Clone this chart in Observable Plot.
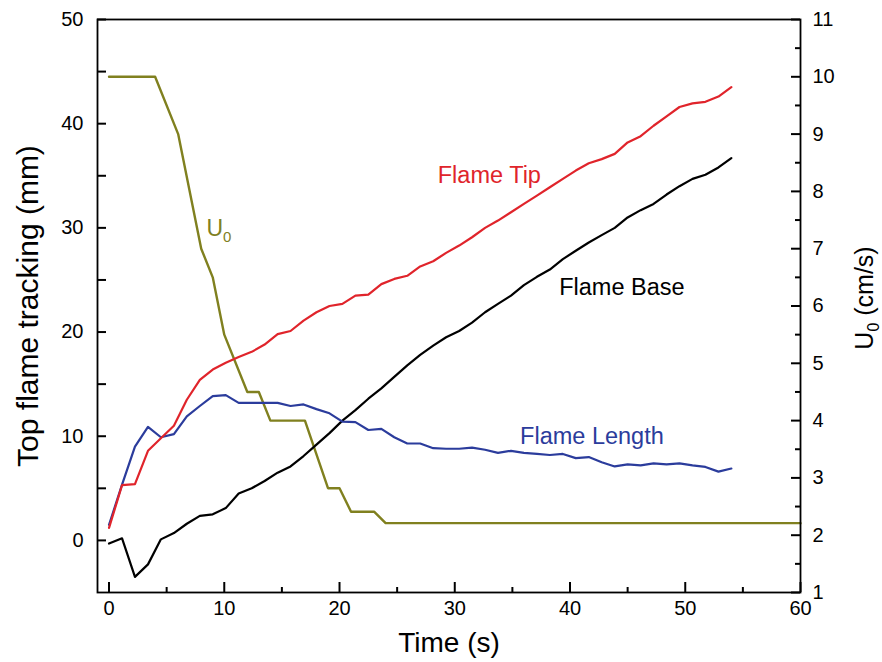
<!DOCTYPE html>
<html><head><meta charset="utf-8">
<script src="https://cdn.jsdelivr.net/npm/d3@7"></script>
<script src="https://cdn.jsdelivr.net/npm/@observablehq/plot@0.6"></script>
<style>body{margin:0;background:#fff;color:#000}</style>
</head><body><div id="chart"></div>
<script>
// ---- data ----
const time = [0, 1.13, 2.25, 3.38, 4.5, 5.63, 6.75, 7.88, 9, 10.13, 11.25, 12.38, 13.5, 14.63, 15.75, 16.88, 18, 19.13, 20.25, 21.38, 22.5, 23.63, 24.75, 25.88, 27, 28.13, 29.25, 30.38, 31.5, 32.63, 33.75, 34.88, 36, 37.13, 38.25, 39.38, 40.5, 41.63, 42.75, 43.88, 45, 46.13, 47.25, 48.38, 49.5, 50.63, 51.75, 52.88, 54];
const flameTip = [1.2, 5.3, 5.4, 8.6, 9.8, 11.0, 13.5, 15.4, 16.4, 17.05, 17.6, 18.1, 18.8, 19.8, 20.1, 21.1, 21.9, 22.5, 22.7, 23.5, 23.6, 24.6, 25.1, 25.4, 26.3, 26.8, 27.6, 28.3, 29.1, 30.0, 30.7, 31.5, 32.3, 33.1, 33.9, 34.7, 35.5, 36.2, 36.6, 37.1, 38.2, 38.8, 39.8, 40.7, 41.6, 41.95, 42.1, 42.6, 43.5];
const flameBase = [-0.3, 0.2, -3.5, -2.3, 0.1, 0.7, 1.6, 2.35, 2.5, 3.1, 4.5, 5.0, 5.7, 6.5, 7.1, 8.1, 9.2, 10.3, 11.5, 12.5, 13.6, 14.6, 15.7, 16.8, 17.8, 18.7, 19.5, 20.1, 20.9, 21.9, 22.7, 23.5, 24.5, 25.3, 26.0, 27.0, 27.8, 28.6, 29.3, 30.0, 31.0, 31.7, 32.3, 33.2, 34.0, 34.7, 35.1, 35.8, 36.7];
const flameLength = [1.5, 5.35, 9.0, 10.9, 9.9, 10.2, 11.9, 12.9, 13.85, 13.95, 13.2, 13.2, 13.2, 13.2, 12.9, 13.05, 12.6, 12.2, 11.4, 11.35, 10.6, 10.7, 9.9, 9.3, 9.3, 8.85, 8.8, 8.8, 8.9, 8.7, 8.4, 8.6, 8.4, 8.3, 8.2, 8.3, 7.9, 8.0, 7.5, 7.1, 7.3, 7.2, 7.4, 7.3, 7.4, 7.2, 7.05, 6.6, 6.9];
const u0Time = [0, 4, 6, 8, 9, 10, 12, 13, 14, 17, 19, 20, 21, 23, 24, 60];
const u0 = [10, 10, 9.0, 7.0, 6.5, 5.5, 4.5, 4.5, 4.0, 4.0, 2.82, 2.82, 2.41, 2.41, 2.21, 2.21];
const xTicks = [0, 10, 20, 30, 40, 50, 60];
const xMinorTicks = [5, 15, 25, 35, 45, 55];
const yTicks = [0, 10, 20, 30, 40, 50];
const yMinorTicks = [5, 15, 25, 35, 45];
const uTicks = [1, 2, 3, 4, 5, 6, 7, 8, 9, 10, 11];
const uMinorTicks = [1.5, 2.5, 3.5, 4.5, 5.5, 6.5, 7.5, 8.5, 9.5, 10.5];

// right axis [1, 11] maps onto left axis [-5, 50]
const toLeft = u => -5 + 5.5 * (u - 1);
const toU = v => (v + 5) / 5.5 + 1;

const red = "#e0242b", blue = "#2b3c9c", olive = "#80801f";
const series = (ys) => time.map((t, i) => ({t, v: ys[i]}));
const u0Data = u0Time.map((t, i) => ({t, v: toLeft(u0[i])}));

const W = 882, H = 662, mL = 97, mR = 82, mT = 19, mB = 70;
const innerW = W - mL - mR, innerH = H - mT - mB;

const chart = Plot.plot({
  width: W, height: H,
  marginLeft: mL, marginRight: mR, marginTop: mT, marginBottom: mB,
  x: {domain: [-1, 60]},
  y: {domain: [-5, 50]},
  style: {fontFamily: "Liberation Sans, Arial, sans-serif", fontSize: "20px", background: "#fff", color: "#000"},
  marks: [
    Plot.line(u0Data, {x: "t", y: "v", stroke: olive, strokeWidth: 2.4}),
    Plot.line(series(flameBase), {x: "t", y: "v", stroke: "black", strokeWidth: 2.2}),
    Plot.line(series(flameLength), {x: "t", y: "v", stroke: blue, strokeWidth: 2.2}),
    Plot.line(series(flameTip), {x: "t", y: "v", stroke: red, strokeWidth: 2.2}),
    // inward ticks
    Plot.ruleX(xTicks, {x: d => d, insetTop: innerH - 10, stroke: "black", strokeWidth: 2}),
    Plot.ruleX(xMinorTicks, {x: d => d, insetTop: innerH - 5, stroke: "black", strokeWidth: 2}),
    Plot.ruleY(yTicks.concat(yMinorTicks), {y: d => d, insetRight: innerW - 9, stroke: "black", strokeWidth: 2}),
    Plot.ruleY(uTicks.map(toLeft), {y: d => d, insetLeft: innerW - 9, stroke: "black", strokeWidth: 2}),
    Plot.ruleY(uMinorTicks.map(toLeft), {y: d => d, insetLeft: innerW - 5, stroke: "black", strokeWidth: 2}),
    Plot.frame({stroke: "black", strokeWidth: 1.8}),
    // tick labels
    Plot.axisX(xTicks, {tickSize: 0, tickPadding: 8, fontSize: 20, fill: "black", label: null}),
    Plot.axisY(yTicks, {tickSize: 0, tickPadding: 14, fontSize: 20, fill: "black", label: null}),
    Plot.axisY(uTicks.map(toLeft), {anchor: "right", tickSize: 0, tickPadding: 12, fontSize: 20, fill: "black", label: null, tickFormat: d => String(Math.round(toU(d)))}),
    // axis titles
    Plot.text(["Time (s)"], {frameAnchor: "bottom", dy: 51, lineAnchor: "middle", textAnchor: "middle", fontSize: 28, fill: "black"}),
    Plot.text(["Top flame tracking (mm)"], {frameAnchor: "left", dx: -69, rotate: -90, textAnchor: "middle", lineAnchor: "middle", fontSize: 30, fill: "black"}),
    Plot.text(["U0 (cm/s)"], {frameAnchor: "right", dx: 64, dy: -8, rotate: -90, textAnchor: "middle", lineAnchor: "middle", fontSize: 25, fill: "black"}),
    // series labels
    Plot.text([{t: 33.0, v: 35.0, s: "Flame Tip"}], {x: "t", y: "v", text: "s", fill: red, fontSize: 23.5}),
    Plot.text([{t: 44.5, v: 24.3, s: "Flame Base"}], {x: "t", y: "v", text: "s", fill: "black", fontSize: 23.5}),
    Plot.text([{t: 41.9, v: 10.0, s: "Flame Length"}], {x: "t", y: "v", text: "s", fill: blue, fontSize: 23.5}),
    Plot.text([{t: 8.45, v: 29.9, s: "U0"}], {x: "t", y: "v", text: "s", fill: olive, fontSize: 23, textAnchor: "start"})
  ]
});

// subscript 0 in U0
d3.select(chart).selectAll("text").each(function() {
  const el = d3.select(this);
  const s = el.text();
  if (s === "U0 (cm/s)" || s === "U0") {
    const big = s === "U0";
    el.text("");
    el.append("tspan").text("U");
    el.append("tspan").attr("dy", 6).attr("font-size", big ? "15px" : "16px").text("0");
    if (!big) el.append("tspan").attr("dy", -6).text(" (cm/s)");
  }
});

document.getElementById("chart").appendChild(chart);
</script>
</body></html>
